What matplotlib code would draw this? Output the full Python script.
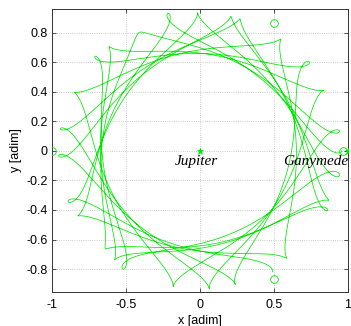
import numpy as np
import matplotlib.pyplot as plt

plt.rcParams['font.family'] = ['Liberation Sans', 'DejaVu Sans']
plt.rcParams['axes.unicode_minus'] = False

# apoapsis passages of the trajectory (synodic frame), in flight order
apo_theta_deg = [0, 103, 208, 309, 54, 155, 259, 8, 117, 226, 335, 73, 171, 274,
                 26, 131, 232, 339, 77, 182, 285, 39, 138, 237, 350, 91, 201, 301]
apo_radius = [0.96, 0.955, 0.935, 0.935, 0.935, 0.935, 0.935, 0.955, 0.90, 0.92,
              0.955, 0.935, 0.955, 0.935, 0.935, 0.935, 0.935, 0.935, 0.935, 0.955,
              0.935, 0.955, 0.955, 0.955, 0.96, 0.935, 0.955, 0.955]

# bodies and libration points
body_x = [0.0, 1.0]
body_y = [0.0, 0.0]
lib_x = [0.970, 1.030, -1.0, 0.5, 0.5]
lib_y = [0.0, 0.0, 0.0, 0.866, -0.866]

x_ticks = [-1, -0.5, 0, 0.5, 1]
x_labels = ['-1', '-0.5', '0', '0.5', '1']
y_ticks = [-0.8, -0.6, -0.4, -0.2, 0, 0.2, 0.4, 0.6, 0.8]
y_labels = ['-0.8', '-0.6', '-0.4', '-0.2', '0', '0.2', '0.4', '0.6', '0.8']

green = '#00e600'


def half_arc(ra, rp, inbound, n=350):
    # keplerian half orbit seen from the frame rotating with Ganymede
    a = (ra + rp) / 2
    e = (ra - rp) / (ra + rp)
    E = np.linspace(-np.pi, 0, n) if inbound else np.linspace(0, np.pi, n)
    r = a * (1 - e * np.cos(E))
    nu = 2 * np.arctan2(np.sqrt(1 + e) * np.sin(E / 2), np.sqrt(1 - e) * np.cos(E / 2))
    t = a ** 1.5 * (E - e * np.sin(E))
    return r, nu - t


def solve_rp(ra1, ra2, dphi):
    lo, hi = 0.2, 0.93
    for _ in range(60):
        rp = (lo + hi) / 2
        adv = np.pi * (2 - ((ra1 + rp) / 2) ** 1.5 - ((ra2 + rp) / 2) ** 1.5)
        if adv > dphi:
            lo = rp
        else:
            hi = rp
    return rp


theta = np.radians(apo_theta_deg)
th_unw = [theta[0]]
for k in range(1, len(theta)):
    th_unw.append(th_unw[-1] + (theta[k] - theta[k - 1]) % (2 * np.pi))

xs, ys = [], []
for k in range(len(th_unw) - 1):
    ra1, ra2 = apo_radius[k], apo_radius[k + 1]
    rp = solve_rp(ra1, ra2, th_unw[k + 1] - th_unw[k])
    r1, p1 = half_arc(ra1, rp, True)
    r2, p2 = half_arc(ra2, rp, False)
    phi_peri = th_unw[k] - p1[0]
    r = np.concatenate([r1, r2])
    phi = np.concatenate([p1 + phi_peri, p2 + phi_peri])
    xs.append(r * np.cos(phi))
    ys.append(r * np.sin(phi))
xs = np.concatenate(xs)
ys = np.concatenate(ys)

fig = plt.figure(figsize=(3.51, 3.26), dpi=100)
ax = fig.add_axes([52 / 351, 34 / 326, 295.5 / 351, 283 / 326])

ax.plot(xs, ys, color=green, linewidth=0.55, zorder=3)
ax.plot(body_x, body_y, linestyle='none', marker='*', markersize=4.5,
        color=green, markeredgewidth=0.5, zorder=4)
ax.plot(lib_x, lib_y, linestyle='none', marker='o', markersize=5.5,
        markerfacecolor='none', markeredgecolor=green, markeredgewidth=0.6, zorder=4)

ax.text(-0.17, -0.07, 'Jupiter', family=['Liberation Serif'], style='italic',
        fontsize=11, va='center', ha='left')
ax.text(0.567, -0.07, 'Ganymede', family=['Liberation Serif'], style='italic',
        fontsize=11, va='center', ha='left')

ax.set_xlim(-1, 1)
ax.set_ylim(-0.955, 0.96)
ax.set_xticks(x_ticks)
ax.set_xticklabels(x_labels)
ax.set_yticks(y_ticks)
ax.set_yticklabels(y_labels)
ax.tick_params(direction='in', length=3, width=0.6, labelsize=9, color='#333333',
               top=True, right=True)
ax.tick_params(axis='x', pad=5)
ax.tick_params(axis='y', pad=3)
ax.grid(True, linestyle=':', color='#bbbbbb', linewidth=0.6)
ax.set_axisbelow(True)
for spine in ax.spines.values():
    spine.set_color('#333333')
    spine.set_linewidth(0.7)

ax.set_xlabel('x [adim]', fontsize=9)
ax.set_ylabel('y [adim]', fontsize=9)
ax.xaxis.set_label_coords(0.5, -0.08)
ax.yaxis.set_label_coords(-0.10, 0.5)

fig.savefig('out.png', dpi=100, facecolor='white')
